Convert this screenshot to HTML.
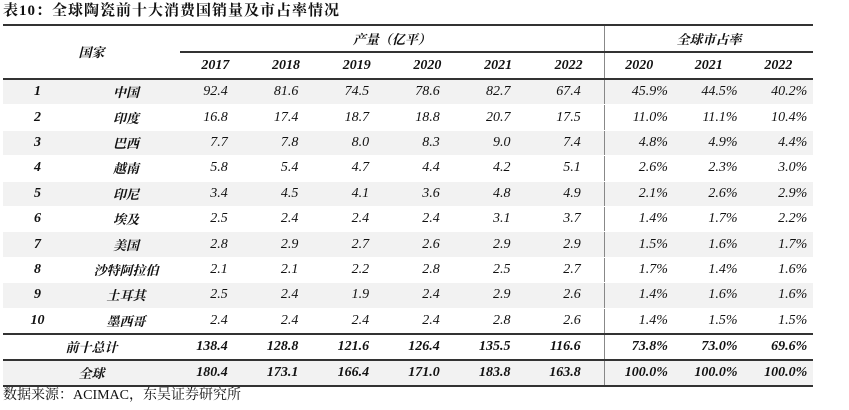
<!DOCTYPE html>
<html><head><meta charset="utf-8"><style>
body{margin:0;width:849px;height:410px;background:#fff;overflow:hidden;font-family:"Liberation Serif","Noto Serif CJK SC",serif;color:#111}
.title{position:absolute;left:3px;top:1px;font-size:15px;font-weight:bold;font-family:"Liberation Serif","Noto Serif CJK SC",serif;letter-spacing:1px;line-height:20px}
table{position:absolute;left:3px;top:24px;width:810px;border-collapse:collapse;table-layout:fixed;font-style:italic;font-size:14px}
td{padding:0;text-align:center;white-space:nowrap;line-height:14px;overflow:hidden}
.h1 td{height:25px}
.h2 td{height:25px;font-weight:bold;border-bottom:2px solid #333}
.top td{border-top:2px solid #333}
.d td{height:24.4px;border-bottom:1px solid #fff}
.d td:nth-child(1),.d td:nth-child(2){font-weight:bold}
.s{background:#f2f2f2}
.n{text-align:right;padding-right:23px}
.p{text-align:right;padding-right:6px}
.vl{border-left:1px solid #888}
.tot td{height:24px;font-weight:bold;border-top:2px solid #333}
.glob td{height:24px;font-weight:bold;border-top:2px solid #333;border-bottom:2px solid #333;background:#f2f2f2}
.cn{font-family:"Noto Serif CJK SC","Liberation Serif",serif;font-size:13px}
.src{position:absolute;left:3px;top:387px;font-size:14px;line-height:18px;font-family:"Liberation Serif","Noto Serif CJK SC",serif}
</style></head><body>
<div class="title">表10：全球陶瓷前十大消费国销量及市占率情况</div>
<table>
<colgroup><col style="width:69px"><col style="width:108px"><col span="6" style="width:70.7px"><col span="3" style="width:69.7px"></colgroup>
<tr class="h1 top"><td colspan="2" rowspan="2" class="cn" style="font-weight:bold;border-bottom:2px solid #333">国家</td><td colspan="6" class="cn" style="border-bottom:2px solid #333;font-weight:bold">产量（亿平）</td><td colspan="3" class="cn vl" style="border-bottom:2px solid #333;font-weight:bold">全球市占率</td></tr>
<tr class="h2"><td>2017</td><td>2018</td><td>2019</td><td>2020</td><td>2021</td><td>2022</td><td class="vl">2020</td><td>2021</td><td>2022</td></tr>
<tr class="d s"><td>1</td><td class="cn">中国</td><td class="n">92.4</td><td class="n">81.6</td><td class="n">74.5</td><td class="n">78.6</td><td class="n">82.7</td><td class="n">67.4</td><td class="p vl">45.9%</td><td class="p">44.5%</td><td class="p">40.2%</td></tr>
<tr class="d"><td>2</td><td class="cn">印度</td><td class="n">16.8</td><td class="n">17.4</td><td class="n">18.7</td><td class="n">18.8</td><td class="n">20.7</td><td class="n">17.5</td><td class="p vl">11.0%</td><td class="p">11.1%</td><td class="p">10.4%</td></tr>
<tr class="d s"><td>3</td><td class="cn">巴西</td><td class="n">7.7</td><td class="n">7.8</td><td class="n">8.0</td><td class="n">8.3</td><td class="n">9.0</td><td class="n">7.4</td><td class="p vl">4.8%</td><td class="p">4.9%</td><td class="p">4.4%</td></tr>
<tr class="d"><td>4</td><td class="cn">越南</td><td class="n">5.8</td><td class="n">5.4</td><td class="n">4.7</td><td class="n">4.4</td><td class="n">4.2</td><td class="n">5.1</td><td class="p vl">2.6%</td><td class="p">2.3%</td><td class="p">3.0%</td></tr>
<tr class="d s"><td>5</td><td class="cn">印尼</td><td class="n">3.4</td><td class="n">4.5</td><td class="n">4.1</td><td class="n">3.6</td><td class="n">4.8</td><td class="n">4.9</td><td class="p vl">2.1%</td><td class="p">2.6%</td><td class="p">2.9%</td></tr>
<tr class="d"><td>6</td><td class="cn">埃及</td><td class="n">2.5</td><td class="n">2.4</td><td class="n">2.4</td><td class="n">2.4</td><td class="n">3.1</td><td class="n">3.7</td><td class="p vl">1.4%</td><td class="p">1.7%</td><td class="p">2.2%</td></tr>
<tr class="d s"><td>7</td><td class="cn">美国</td><td class="n">2.8</td><td class="n">2.9</td><td class="n">2.7</td><td class="n">2.6</td><td class="n">2.9</td><td class="n">2.9</td><td class="p vl">1.5%</td><td class="p">1.6%</td><td class="p">1.7%</td></tr>
<tr class="d"><td>8</td><td class="cn">沙特阿拉伯</td><td class="n">2.1</td><td class="n">2.1</td><td class="n">2.2</td><td class="n">2.8</td><td class="n">2.5</td><td class="n">2.7</td><td class="p vl">1.7%</td><td class="p">1.4%</td><td class="p">1.6%</td></tr>
<tr class="d s"><td>9</td><td class="cn">土耳其</td><td class="n">2.5</td><td class="n">2.4</td><td class="n">1.9</td><td class="n">2.4</td><td class="n">2.9</td><td class="n">2.6</td><td class="p vl">1.4%</td><td class="p">1.6%</td><td class="p">1.6%</td></tr>
<tr class="d"><td>10</td><td class="cn">墨西哥</td><td class="n">2.4</td><td class="n">2.4</td><td class="n">2.4</td><td class="n">2.4</td><td class="n">2.8</td><td class="n">2.6</td><td class="p vl">1.4%</td><td class="p">1.5%</td><td class="p">1.5%</td></tr>
<tr class="tot"><td colspan="2" class="cn">前十总计</td><td class="n">138.4</td><td class="n">128.8</td><td class="n">121.6</td><td class="n">126.4</td><td class="n">135.5</td><td class="n">116.6</td><td class="p vl">73.8%</td><td class="p">73.0%</td><td class="p">69.6%</td></tr>
<tr class="glob"><td colspan="2" class="cn">全球</td><td class="n">180.4</td><td class="n">173.1</td><td class="n">166.4</td><td class="n">171.0</td><td class="n">183.8</td><td class="n">163.8</td><td class="p vl">100.0%</td><td class="p">100.0%</td><td class="p">100.0%</td></tr>
</table>
<div class="src">数据来源：ACIMAC，东吴证券研究所</div>
</body></html>
